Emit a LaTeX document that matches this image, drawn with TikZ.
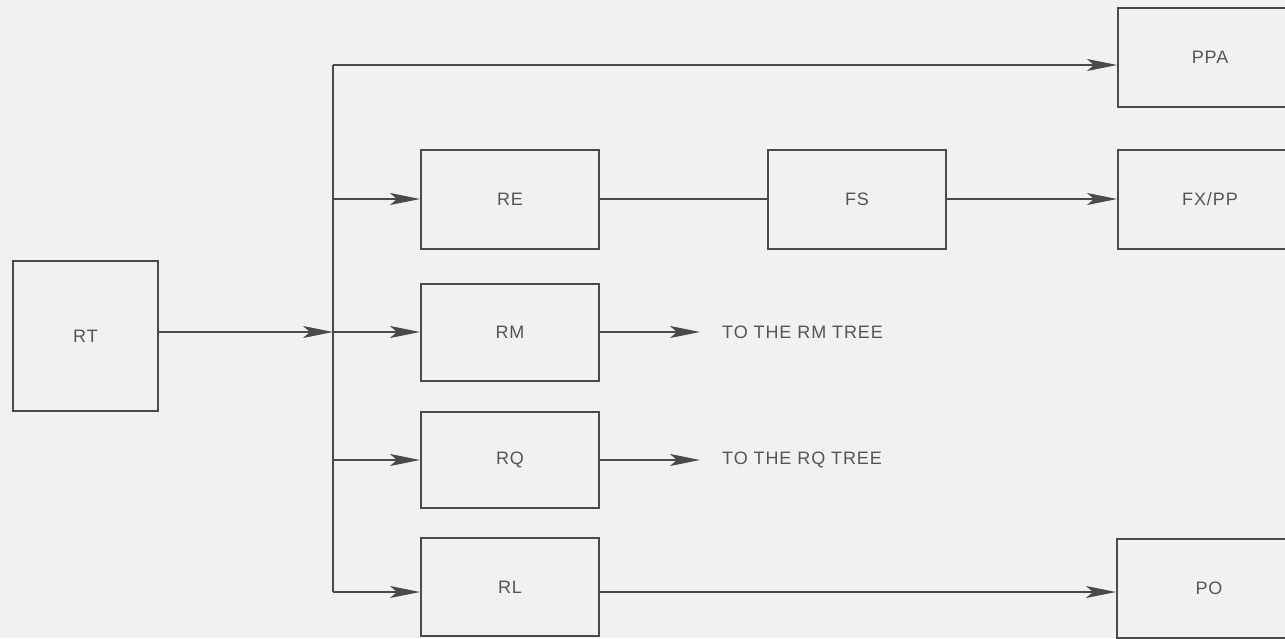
\documentclass[tikz,border=0pt]{standalone}
\usepackage{fontspec}
\setmainfont{Liberation Sans}[LetterSpace=5]
\usetikzlibrary{arrows.meta}
\definecolor{ink}{HTML}{4A4A4A}
\definecolor{txt}{HTML}{555555}
\definecolor{paper}{HTML}{F1F1F1}
\begin{document}
\begin{tikzpicture}[x=1pt,y=-1pt,
  box/.style={draw=ink,line width=2pt,fill=none,minimum width=178pt,minimum height=99pt,inner sep=0pt,text=txt,font=\fontsize{18}{20}\selectfont},
  wbox/.style={box,minimum width=184pt},
  conn/.style={draw=ink,line width=2pt},
  arr/.style={conn,-{Stealth[length=30pt,width=12pt,inset=7pt]}},
  lbl/.style={text=txt,font=\fontsize{18}{20}\selectfont,anchor=west,inner sep=0pt}]
\fill[paper] (0,0) rectangle (1285,638);
\useasboundingbox (0,0) rectangle (1285,638);
\clip (0,0) rectangle (1285,638);
\node[box,minimum width=145pt,minimum height=150pt] (RT) at (85.5,336) {RT};
\node[box] (RE) at (510,199.5) {RE};
\node[box] (FS) at (857,199.5) {FS};
\node[box,minimum height=97pt] (RM) at (510,332.5) {RM};
\node[box,minimum height=96pt] (RQ) at (510,460) {RQ};
\node[box,minimum height=98pt] (RL) at (510,587) {RL};
\node[wbox] (PPA) at (1210,57.5) {PPA};
\node[wbox] (FXPP) at (1210,199.5) {FX/PP};
\node[wbox] (PO) at (1209,588.5) {PO};
\coordinate (bus) at (333,332);
\coordinate (btop) at (333,65);
\coordinate (bbot) at (333,592);
\coordinate (rmend) at (700,332);
\coordinate (rqend) at (700,460);
\coordinate (reln) at (333,199);
\draw[arr] (RT.east |- bus) -- (bus);
\draw[conn] (btop) -- (bbot);
\draw[arr] (btop) -- (btop -| PPA.west);
\draw[arr] (reln) -- (reln -| RE.west);
\draw[arr] (bus) -- (RM.west |- bus);
\draw[arr] (bus |- RQ.west) -- (RQ.west);
\draw[arr] (bbot) -- (bbot -| RL.west);
\draw[conn] (reln -| RE.east) -- (reln -| FS.west);
\draw[arr] (reln -| FS.east) -- (reln -| FXPP.west);
\draw[arr] (RM.east |- rmend) -- (rmend);
\draw[arr] (RQ.east) -- (rqend);
\draw[arr] (bbot -| RL.east) -- (bbot -| PO.west);
\node[lbl] (trm) at (722,332) {TO THE RM TREE};
\node[lbl] (trq) at (722,460) {TO THE RQ TREE};
\end{tikzpicture}
\end{document}
